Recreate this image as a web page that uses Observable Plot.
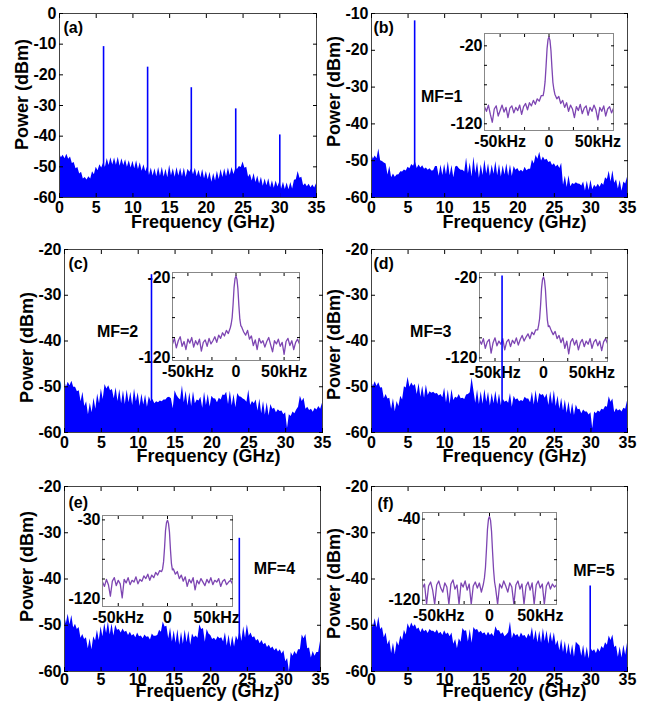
<!DOCTYPE html>
<html><head><meta charset="utf-8">
<script src="https://cdn.jsdelivr.net/npm/d3@7"></script>
<script src="https://cdn.jsdelivr.net/npm/@observablehq/plot@0.6"></script>
<style>
body{margin:0;background:#fff;}
#fig{position:relative;width:650px;height:711px;overflow:hidden;background:#fff;}
#fig svg{position:absolute;}
</style></head><body><div id="fig"></div><script>
// ---------- data ----------
const freqGHz = d3.range(141).map(i => i * 0.25); // 0..35 GHz sampling grid
const xTicks = [0, 5, 10, 15, 20, 25, 30, 35];
const panelLabels = ["(a)", "(b)", "(c)", "(d)", "(e)", "(f)"];

const powerA = [-45.6,-47.0,-46.2,-47.4, -45.9,-47.5,-46.8,-48.9, -48.6,-50.6,-50.2,-52.3, -51.8,-54.0,-53.5,-54.3, -53.2,-54.0,-51.6,-52.6,
 -50.1,-51.3,-49.3,-50.4, -48.8,-50.2,-47.3,-49.6, -47.0,-49.4,-47.1,-49.5, -46.9,-49.8,-47.4,-49.6, -47.7,-50.1,-48.0,-50.4,
 -48.2,-50.6,-48.0,-50.9, -48.7,-51.4,-49.3,-51.6, -50.0,-52.8,-50.4,-53.0, -50.6,-53.2,-50.2,-53.1, -50.1,-53.3,-50.8,-53.6,
 -49.5,-52.9,-50.6,-53.4, -50.2,-53.0,-50.5,-53.2, -50.4,-53.5,-50.8,-51.8, -50.6,-52.6,-50.5,-53.2, -51.1,-53.6,-50.9,-53.9,
 -51.5,-54.2,-51.8,-55.0, -52.2,-54.6,-51.4,-54.1, -50.9,-53.5,-50.6,-53.2, -50.4,-52.8,-50.2,-52.5, -50.7,-50.8,-49.9,-50.2,
 -48.4,-50.5,-50.1,-53.4, -52.4,-54.6,-52.2,-55.1, -53.0,-55.6,-53.4,-56.3, -54.0,-56.2,-53.9,-56.8, -54.5,-57.0,-54.6,-56.6,
 -54.9,-57.2,-55.0,-57.4, -55.3,-57.5,-55.1,-57.2, -54.4,-54.2,-51.5,-53.7, -53.4,-56.2,-55.5,-56.5, -55.7,-56.8,-55.9,-56.9, -55.5];
const powerB = [-48.0,-49.6,-48.7,-49.5, -46.8,-50.0,-50.2,-50.6, -50.9,-53.9,-51.6,-54.6, -53.6,-54.5,-53.9,-53.8, -53.0,-53.1,-52.5,-52.8,
 -51.8,-52.2,-51.0,-51.5, -50.3,-52.1,-51.2,-52.0, -51.4,-52.3,-52.0,-52.6, -52.2,-52.8,-52.7,-51.6, -51.6,-54.2,-51.2,-54.0,
 -51.0,-53.8,-50.3,-54.1, -51.3,-54.6,-51.7,-51.5, -52.2,-52.6,-52.6,-53.1, -49.3,-53.6,-50.6,-54.4, -49.0,-53.5,-50.4,-54.8,
 -51.1,-54.0,-49.8,-53.6, -50.8,-54.2,-51.2,-53.7, -50.2,-54.1,-51.0,-54.4, -51.4,-53.9,-50.8,-54.2, -51.2,-54.3,-51.6,-52.6,
 -52.1,-53.0,-52.6,-53.1, -51.8,-52.7,-52.3,-52.3, -49.8,-50.9,-48.6,-49.6, -47.7,-50.1,-49.0,-49.9, -49.6,-50.5,-50.2,-51.3,
 -50.8,-51.7,-51.2,-52.1, -50.7,-56.7,-54.2,-57.3, -54.1,-57.1,-56.2,-56.5, -56.0,-56.3,-56.4,-56.9, -55.8,-58.2,-55.6,-58.1,
 -55.3,-57.9,-56.7,-57.3, -56.4,-57.2,-56.1,-56.7, -54.6,-55.1,-52.9,-55.8, -52.7,-56.1,-55.2,-57.7, -55.4,-58.3,-55.8,-56.3, -54.5];
const powerC = [-48.3,-50.2,-49.0,-49.8, -48.8,-50.1,-50.1,-51.1, -50.9,-53.3,-51.2,-54.3, -53.3,-56.1,-53.6,-55.7, -52.5,-54.9,-51.6,-53.7,
 -50.5,-52.8,-49.5,-50.5, -49.8,-50.9,-50.6,-52.6, -50.2,-53.2,-50.6,-53.7, -50.9,-53.9,-50.7,-53.5, -51.2,-54.1,-50.5,-53.3,
 -51.3,-54.3,-51.6,-54.0, -51.8,-54.5,-52.2,-53.3, -52.8,-53.7,-53.3,-53.5, -53.1,-53.3,-52.9,-52.9, -52.4,-52.3,-52.6,-54.8,
 -50.9,-51.9,-52.5,-52.9, -49.8,-53.5,-51.0,-54.2, -51.3,-54.3,-51.1,-53.7, -52.9,-53.1,-52.3,-54.7, -51.2,-54.1,-51.7,-54.4,
 -52.1,-52.6,-52.7,-53.5, -52.5,-52.9,-51.8,-51.9, -51.2,-53.9,-51.0,-54.2, -51.7,-54.6,-51.5,-52.2, -52.3,-52.7,-52.9,-53.4,
 -50.7,-54.1,-53.2,-53.7, -52.9,-55.3,-52.7,-55.9, -53.2,-56.2,-53.5,-56.4, -53.9,-54.9,-54.7,-55.7, -55.0,-55.4,-55.3,-56.1,
 -55.7,-59.1,-56.1,-56.5, -55.5,-55.9,-55.1,-54.5, -52.1,-53.2,-52.5,-54.9, -54.5,-55.2,-54.9,-55.6, -54.7,-55.1,-54.3,-54.9, -53.6];
const powerD = [-48.7,-50.0,-48.9,-49.9, -49.1,-50.3,-50.2,-52.6, -51.7,-52.7,-52.5,-54.9, -52.6,-55.4,-53.2,-54.3, -52.1,-52.9,-50.0,-50.3,
 -47.9,-50.1,-49.2,-49.9, -49.5,-51.7,-49.3,-52.3, -49.9,-52.5,-49.6,-51.9, -51.1,-51.4,-51.2,-51.6, -51.5,-52.0,-51.7,-52.4,
 -50.3,-53.5,-50.7,-53.8, -50.6,-53.0,-52.3,-52.5, -51.7,-52.6,-52.5,-52.8, -51.8,-51.7,-51.3,-48.1, -50.9,-53.6,-50.7,-53.9,
 -51.1,-53.8,-50.6,-53.4, -51.2,-54.2,-51.5,-53.7, -51.0,-53.9,-51.6,-54.1, -52.7,-53.4,-53.1,-53.6, -51.5,-54.5,-52.1,-52.9,
 -52.6,-53.3,-53.0,-53.2, -52.3,-52.7,-52.7,-53.5, -51.2,-54.0,-50.8,-53.7, -51.5,-51.9,-51.7,-52.5, -51.6,-54.1,-51.1,-53.9,
 -50.8,-54.3,-52.0,-54.9, -52.5,-55.3,-52.9,-55.8, -53.3,-56.1,-53.6,-56.3, -54.0,-55.0,-54.9,-55.9, -55.1,-55.5,-55.5,-56.2,
 -55.7,-59.2,-55.5,-55.9, -55.3,-55.6,-54.9,-55.1, -54.3,-54.5,-52.2,-53.4, -52.7,-55.7,-54.8,-55.3, -55.0,-55.5,-54.7,-54.9, -53.1];
const powerE = [-47.7,-49.7,-47.6,-49.9, -47.9,-50.6,-49.8,-50.9, -50.5,-52.8,-52.0,-53.1, -52.7,-55.1,-52.9,-55.3, -52.5,-53.4,-51.1,-53.3,
 -50.3,-52.5,-49.6,-51.8, -49.3,-52.1,-49.7,-52.3, -50.0,-51.1,-50.9,-51.7, -50.8,-51.5,-51.3,-52.2, -51.5,-52.3,-52.0,-52.7,
 -51.7,-52.5,-52.3,-52.9, -52.1,-52.6,-52.5,-53.2, -51.9,-52.4,-52.4,-52.2, -51.1,-51.5,-49.3,-50.4, -50.2,-52.9,-50.6,-53.6,
 -51.2,-53.9,-50.9,-54.3, -51.5,-54.1,-51.0,-53.8, -51.3,-54.3,-51.9,-52.7, -52.3,-52.8,-49.9,-50.9, -50.7,-53.7,-50.9,-51.9,
 -52.2,-53.1,-52.8,-53.3, -52.5,-52.9,-52.7,-53.6, -51.6,-54.5,-52.1,-54.8, -52.4,-54.7,-52.3,-53.3, -51.1,-53.5,-50.3,-52.8,
 -49.9,-52.4,-51.7,-52.7, -52.5,-53.4,-53.1,-54.0, -53.3,-54.2,-53.9,-54.8, -54.3,-55.1,-54.7,-55.5, -55.0,-55.8,-55.3,-56.2,
 -55.5,-57.9,-57.2,-60.0, -55.9,-56.7,-55.7,-56.4, -55.3,-55.3,-52.1,-52.9, -52.0,-55.1,-54.9,-57.1, -55.7,-56.7,-55.9,-55.9, -53.5];
const powerF = [-48.4,-50.5,-48.6,-50.6, -48.2,-50.9,-50.5,-52.7, -51.7,-54.2,-53.2,-56.1, -53.9,-56.3,-53.5,-54.5, -52.3,-53.3,-51.1,-52.1,
 -49.7,-50.7,-49.5,-50.4, -49.9,-50.9,-50.6,-51.6, -50.7,-51.4,-51.1,-51.8, -50.9,-51.3,-51.3,-51.7, -51.0,-51.9,-51.5,-52.2,
 -51.2,-52.0,-51.7,-52.5, -51.7,-54.1,-53.1,-55.1, -52.9,-53.7,-50.7,-51.3, -51.2,-53.6,-50.9,-53.9, -50.5,-51.1,-50.9,-51.7,
 -51.3,-51.9,-51.6,-52.3, -51.5,-52.2,-51.8,-52.5, -50.3,-51.2,-51.2,-52.0, -51.6,-52.5,-52.1,-51.6, -49.3,-52.9,-51.7,-52.3,
 -52.0,-52.7,-51.7,-52.4, -52.2,-52.9,-51.9,-52.6, -50.5,-53.3,-51.1,-53.8, -51.3,-53.9,-50.7,-53.5, -51.2,-54.1,-51.5,-53.7,
 -51.6,-54.4,-53.3,-55.5, -53.1,-55.9,-53.5,-56.3, -53.9,-56.6,-54.2,-56.9, -53.7,-54.1,-54.5,-56.7, -54.3,-57.1,-54.7,-57.3,
 -54.9,-55.7,-55.3,-56.1, -55.0,-55.8,-54.6,-55.1, -53.8,-54.3,-52.3,-53.3, -52.1,-54.8,-54.5,-56.9, -54.7,-57.1,-54.3,-56.5, -53.9];

// carrier lines (GHz, dBm)
const peakFreqA = [6.0, 12.0, 17.95, 24.0, 30.0];
const peakPowerA = [-10.8, -17.5, -24.2, -31.1, -39.6];
const peakFreqB = [5.9], peakPowerB = [-12.0];
const peakFreqC = [11.8], peakPowerC = [-25.5];
const peakFreqD = [17.85], peakPowerD = [-25.8];
const peakFreqE = [23.9], peakPowerE = [-31.2];
const peakFreqF = [29.9], peakPowerF = [-41.5];

// MF annotations (text, GHz, dBm)
const mfText = ["MF=1", "MF=2", "MF=3", "MF=4", "MF=5"];
const mfFreq = [9.6, 7.2, 8.1, 28.7, 30.4];
const mfPower = [-32.6, -38.1, -38.1, -37.8, -38.2];

// inset spectra: offset frequency (kHz) and power (dBm)
const insetKHz = [-66,-64,-62,-60,-58,-56,-54,-52,-50,-48,-46,-44,-42,-40,-38,-36,-34,-32,-30,-28,-26,-24,-22,-20,-18,-16,-14,-12,-10,-8,
 -6,-5,-4,-3,-2,-1,0,1,2,3,4,5,6,
 8,10,12,14,16,18,20,22,24,26,28,30,32,34,36,38,40,42,44,46,48,50,52,54,56,58,60,62,64,66];
const insetB = [-98,-104,-96,-108,-118,-101,-97,-110,-103,-96,-105,-99,-112,-100,-97,-106,-99,-103,-96,-108,-98,-94,-102,-93,-97,-90,-95,-88,-91,-84,
 -84,-77,-66,-46,-24,-12,-8.5,-13,-26,-48,-67,-76,-82,
 -88,-85,-94,-90,-99,-93,-104,-96,-101,-112,-98,-103,-95,-107,-100,-97,-109,-99,-104,-96,-102,-115,-99,-104,-97,-110,-101,-98,-106,-100];
const insetC = [-103,-96,-108,-99,-94,-106,-100,-110,-97,-102,-95,-107,-99,-104,-97,-112,-101,-98,-106,-96,-103,-99,-94,-101,-92,-96,-89,-93,-86,-90,
 -83,-78,-70,-53,-32,-21,-18,-22,-34,-55,-72,-80,-82,
 -88,-92,-86,-97,-93,-105,-98,-110,-96,-102,-99,-107,-100,-95,-104,-113,-99,-103,-97,-106,-101,-116,-100,-96,-105,-99,-110,-101,-97,-103];
const insetD = [-98,-103,-96,-108,-100,-97,-114,-101,-95,-105,-99,-103,-96,-110,-100,-97,-106,-98,-102,-95,-104,-97,-92,-99,-94,-90,-96,-88,-91,-85,
 -85,-79,-71,-54,-33,-22,-19,-23,-35,-56,-73,-81,-80,
 -86,-91,-87,-96,-92,-101,-95,-108,-99,-115,-100,-96,-104,-98,-110,-101,-97,-106,-99,-103,-96,-108,-100,-97,-105,-99,-111,-100,-96,-102];
const insetE = [-101,-106,-98,-104,-117,-100,-96,-105,-99,-103,-119,-98,-102,-96,-104,-99,-101,-95,-103,-98,-100,-94,-97,-92,-99,-93,-96,-90,-93,-88,
 -89,-86,-78,-62,-42,-33,-30.5,-34,-44,-64,-80,-87,-86,
 -92,-89,-97,-93,-100,-95,-106,-98,-102,-96,-110,-99,-103,-97,-101,-105,-98,-102,-96,-104,-99,-101,-97,-106,-100,-98,-104,-101,-99,-103];
const insetF = [-108,-104,-124,-106,-102,-110,-124,-105,-101,-108,-112,-103,-107,-124,-104,-100,-109,-105,-124,-103,-107,-101,-110,-104,-124,-106,-102,-108,-103,-112,
 -104,-98,-88,-70,-50,-40,-37.5,-41,-52,-72,-90,-102,-108,
 -124,-104,-108,-101,-106,-112,-103,-107,-124,-105,-101,-109,-104,-124,-106,-102,-110,-103,-124,-105,-101,-108,-104,-124,-106,-102,-109,-104,-107,-105];
const insetXTicks = [-50, -25, 0, 25, 50];
const insetXLabels = ["-50kHz", "", "0", "", "50kHz"];

// ---------- layout / style ----------
const FONT = '"Liberation Sans", Arial, Helvetica, sans-serif';
const BLUE = "#0000ff";
const PURPLE = "#7d45b2";
const fig = document.getElementById("fig");

const panels = [
  {cell:[0,0,325,235],   frame:[59,316,13,197],  yDomain:[-60,0],   yTicks:[0,-10,-20,-30,-40,-50,-60], power:powerA, pf:peakFreqA, pp:peakPowerA, lab:0, labDx:4, labDy:14, ylabPx:94, xPad:8.5, xlabDy:25, mf:-1, inset:null},
  {cell:[325,0,325,235], frame:[371,627,13,197], yDomain:[-60,-10], yTicks:[-10,-20,-30,-40,-50,-60], power:powerB, pf:peakFreqB, pp:peakPowerB, lab:1, labDx:2, labDy:14, ylabPx:91, xPad:8.5, xlabDy:25, mf:0,
    inset:{frame:[484,613,33,130], yDomain:[-128.6,-4.2], yTicks:[-20,-45,-70,-95,-120], ends:[-20,-120], data:insetB}},
  {cell:[0,235,325,237], frame:[64,322,249,432], yDomain:[-60,-20], yTicks:[-20,-30,-40,-50,-60], power:powerC, pf:peakFreqC, pp:peakPowerC, lab:2, labDx:4, labDy:14, ylabPx:347, xPad:8, xlabDy:24, mf:1,
    inset:{frame:[172,299,272,360], yDomain:[-123.8,-13.4], yTicks:[-20,-45,-70,-95,-120], ends:[-20,-120], data:insetC}},
  {cell:[325,235,325,237], frame:[371,627,249,432], yDomain:[-60,-20], yTicks:[-20,-30,-40,-50,-60], power:powerD, pf:peakFreqD, pp:peakPowerD, lab:3, labDx:2, labDy:14, ylabPx:344, xPad:8, xlabDy:24, mf:2,
    inset:{frame:[479,607,272,361], yDomain:[-124.5,-13.5], yTicks:[-20,-45,-70,-95,-120], ends:[-20,-120], data:insetD}},
  {cell:[0,472,325,239], frame:[64,320,486,671], yDomain:[-60,-20], yTicks:[-20,-30,-40,-50,-60], power:powerE, pf:peakFreqE, pp:peakPowerE, lab:4, labDx:4, labDy:16, ylabPx:566, xPad:6.5, xlabDy:20, mf:3,
    inset:{frame:[102,232,515,606], yDomain:[-128.9,-25], yTicks:[-30,-52.5,-75,-97.5,-120], ends:[-30,-120], data:insetE}},
  {cell:[325,472,325,239], frame:[371,627,486,671], yDomain:[-60,-20], yTicks:[-20,-30,-40,-50,-60], power:powerF, pf:peakFreqF, pp:peakPowerF, lab:5, labDx:6, labDy:17, ylabPx:583, xPad:6.5, xlabDy:20, mf:4,
    inset:{frame:[422,556,512,604], yDomain:[-124.2,-33.5], yTicks:[-40,-60,-80,-100,-120], ends:[-40,-120], data:insetF}}
];

const baseStyle = {background:"transparent", overflow:"visible", fontFamily:FONT, fontWeight:"bold", fontSize:"16px", color:"#000"};

function place(el, left, top) {
  el.style.position = "absolute";
  el.style.left = left + "px";
  el.style.top = top + "px";
  fig.appendChild(el);
}

function geom(p) {
  const [cl, ct, cw, ch] = p.cell;
  const [x0, x1, y0, y1] = p.frame;
  return {width: cw, height: ch, marginLeft: x0 - cl, marginRight: cl + cw - x1, marginTop: y0 - ct, marginBottom: ct + ch - y1,
    x: {domain:[0,35], axis:null}, y: {domain:p.yDomain, axis:null}, style: baseStyle};
}

for (const p of panels) {
  const ymin = p.yDomain[0], ymax = p.yDomain[1];
  const [x0, x1, y0, y1] = p.frame;
  const rows = freqGHz.map((f, i) => ({f, p: p.power[i]}));
  // vertical centre of the y-axis title, converted from page pixels to the panel's dBm scale
  const ylabY = ymax - (p.ylabPx - y0) / (y1 - y0) * (ymax - ymin);
  const main = Plot.plot({
    ...geom(p),
    marks: [
      Plot.areaY(rows, {x:"f", y1: () => ymin, y2:"p", fill:BLUE, clip:true}),
      Plot.frame({stroke:"#444"}),
      Plot.axisX({anchor:"bottom", label:null, ticks:xTicks, tickSize:-4, tickPadding:p.xPad, tickFormat:d => String(d), fontSize:16, fontWeight:"bold"}),
      Plot.axisX({anchor:"top", label:null, ticks:xTicks, tickSize:-4, tickFormat:() => ""}),
      Plot.axisY({anchor:"left", label:null, ticks:p.yTicks, tickSize:-4, tickPadding:7, tickFormat:d => String(d), fontSize:16, fontWeight:"bold"}),
      Plot.axisY({anchor:"right", label:null, ticks:p.yTicks, tickSize:-4, tickFormat:() => ""}),
      Plot.text(["Frequency (GHz)"], {text:d => d, frameAnchor:"bottom", textAnchor:"middle", lineAnchor:"middle", dx:15, dy:p.xlabDy, fontSize:18, fontWeight:"bold"}),
      Plot.text(["Power (dBm)"], {text:d => d, y:() => ylabY, frameAnchor:"left", textAnchor:"middle", lineAnchor:"middle", rotate:-90, dx:-37, fontSize:18, fontWeight:"bold"})
    ]
  });
  place(main, p.cell[0], p.cell[1]);

  if (p.inset) {
    const I = p.inset;
    const [ix0, ix1, iy0, iy1] = I.frame;
    const mL = 45, mR = 25, mT = 8, mB = 25;
    const irows = insetKHz.map((k, i) => ({k, p: I.data[i]}));
    const inset = Plot.plot({
      width: ix1 - ix0 + mL + mR, height: iy1 - iy0 + mT + mB,
      marginLeft: mL, marginRight: mR, marginTop: mT, marginBottom: mB,
      x: {domain:[-66,66], axis:null}, y: {domain:I.yDomain, axis:null},
      style: baseStyle,
      marks: [
        Plot.frame({fill:"white", stroke:"none"}),
        Plot.line(irows, {x:"k", y:"p", stroke:PURPLE, strokeWidth:1.3, clip:true}),
        Plot.frame({stroke:"#888"}),
        Plot.axisX({anchor:"bottom", label:null, ticks:insetXTicks, tickSize:-3, tickPadding:8, tickFormat:d => insetXLabels[insetXTicks.indexOf(d)], fontSize:16, fontWeight:"bold"}),
        Plot.axisX({anchor:"top", label:null, ticks:insetXTicks, tickSize:-3, tickFormat:() => ""}),
        Plot.axisY({anchor:"left", label:null, ticks:I.yTicks, tickSize:-3, tickPadding:5, tickFormat:d => I.ends.includes(d) ? String(d) : "", fontSize:16, fontWeight:"bold"}),
        Plot.axisY({anchor:"right", label:null, ticks:I.yTicks, tickSize:-3, tickFormat:() => ""})
      ]
    });
    place(inset, ix0 - mL, iy0 - mT);
  }

  const peaks = p.pf.map((f, i) => ({f, p: p.pp[i]}));
  const marks = [
    Plot.ruleX(peaks, {x:"f", y1: () => ymin, y2:"p", stroke:BLUE, strokeWidth:1.6}),
    Plot.text([panelLabels[p.lab]], {text:d => d, frameAnchor:"top-left", textAnchor:"start", lineAnchor:"middle", dx:p.labDx, dy:p.labDy, fontSize:16, fontWeight:"bold"})
  ];
  if (p.mf >= 0) {
    marks.push(Plot.text([{t: mfText[p.mf], f: mfFreq[p.mf], v: mfPower[p.mf]}], {x:"f", y:"v", text:"t", fontSize:16, fontWeight:"bold"}));
  }
  const over = Plot.plot({...geom(p), marks});
  place(over, p.cell[0], p.cell[1]);
}
</script></body></html>
